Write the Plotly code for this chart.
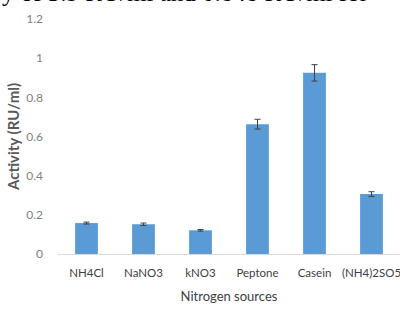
import plotly.graph_objects as go

categories = ["NH4Cl", "NaNO3", "kNO3", "Peptone", "Casein", "(NH4)2SO5"]
activity = [0.158, 0.152, 0.121, 0.663, 0.925, 0.306]
errors = [0.005, 0.006, 0.004, 0.025, 0.042, 0.012]
y_ticks = [0, 0.2, 0.4, 0.6, 0.8, 1, 1.2]
y_tick_labels = ["0", "0.2", "0.4", "0.6", "0.8", "1", "1.2"]

fig = go.Figure()
fig.add_trace(go.Bar(
    x=categories, y=activity,
    marker=dict(color="#5B9BD5", line=dict(width=0)),
    error_y=dict(type="data", array=errors, color="#404040", thickness=1, width=3),
))

fig.update_layout(
    width=400, height=309,
    margin=dict(l=58, r=0, t=19, b=55),
    paper_bgcolor="white", plot_bgcolor="white",
    bargap=0.6,
    showlegend=False,
    font=dict(family="Lato, Open Sans, sans-serif", color="#595959"),
    xaxis=dict(
        automargin=False,
        showgrid=False, showline=True, linecolor="#D9D9D9", linewidth=1,
        tickfont=dict(size=11.5, color="#404040"),
        ticklabelstandoff=8,
        title=dict(text="Nitrogen sources", font=dict(size=13, color="#404040"), standoff=14),
    ),
    yaxis=dict(
        automargin=False,
        range=[0, 1.2], tickvals=y_ticks, ticktext=y_tick_labels,
        showgrid=False, zeroline=False, showline=False,
        tickfont=dict(size=12, color="#7F7F7F"),
        ticklabelstandoff=14,
        title=dict(text="<b>Activity (RU/ml)</b>", font=dict(size=15, color="#595959"), standoff=2),
    ),
)

fig.add_annotation(
    text="y of 3.9 RU/ml and 0.848 RU/ml for",
    xref="paper", yref="paper", x=-58/342, y=1, yshift=11,
    xanchor="left", yanchor="bottom", showarrow=False,
    font=dict(family="Liberation Serif, serif", size=25, color="black"),
)

fig.write_html(
    "out.html",
    config={"displayModeBar": False},
    post_script="document.body.style.margin='0';document.body.style.overflow='hidden';",
)
